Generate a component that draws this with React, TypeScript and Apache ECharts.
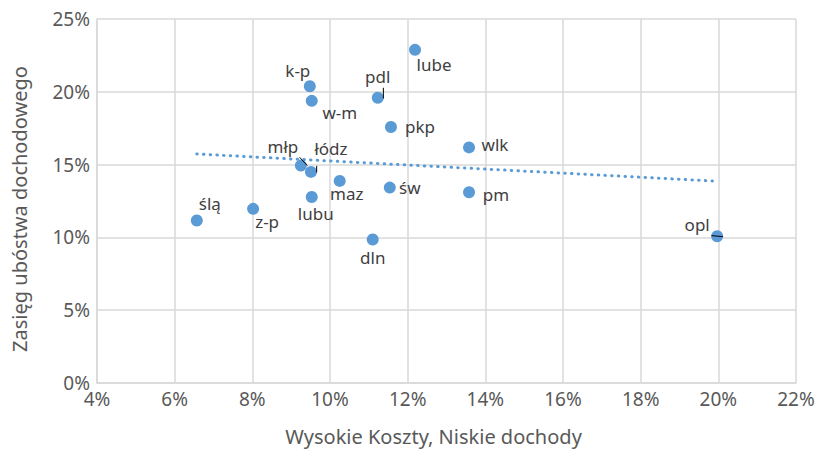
import React, { useEffect, useRef } from "react";
import * as echarts from "echarts";

// Data
const regions = ["ślą", "z-p", "k-p", "w-m", "młp", "łódz", "lubu", "maz", "pdl", "dln", "pkp", "św", "lube", "wlk", "pm", "opl"];
const highCostLowIncome = [6.57, 8.02, 9.48, 9.53, 9.25, 9.51, 9.53, 10.25, 11.23, 11.1, 11.57, 11.54, 12.19, 13.58, 13.58, 19.97];
const povertyRate = [11.16, 11.96, 20.38, 19.38, 14.93, 14.5, 12.77, 13.88, 19.59, 9.86, 17.58, 13.42, 22.88, 16.18, 13.1, 10.08];
const xTicks = [4, 6, 8, 10, 12, 14, 16, 18, 20, 22];
const yTicks = [0, 5, 10, 15, 20, 25];

// Label placement (pixel offsets from point centre) — styling only
const labelOffsets: Record<string, [number, number]> = {
  "ślą": [13, -17],
  "z-p": [14, 13],
  "k-p": [-12, -16],
  "w-m": [28, 12],
  "młp": [-18, -19],
  "łódz": [20, -23],
  "lubu": [4, 16],
  "maz": [7, 13],
  "pdl": [0, -21],
  "dln": [0, 18],
  "pkp": [29, -1],
  "św": [20, 0],
  "lube": [19, 15],
  "wlk": [26, -3],
  "pm": [27, 2],
  "opl": [-20, -12],
};
const leaderLines: Record<string, [[number, number], [number, number]]> = {
  "pdl": [[5.6, -10], [5.6, 0.7]],
  "młp": [[-1.3, -8.4], [6.4, 0]],
  "łódz": [[5.7, -6], [5.7, 0.6]],
  "opl": [[-5.7, -0.6], [5.7, 0.4]],
};

const FONT = "'Noto Sans', sans-serif";

function regression(xs: number[], ys: number[]) {
  const n = xs.length;
  const mx = xs.reduce((a, b) => a + b, 0) / n;
  const my = ys.reduce((a, b) => a + b, 0) / n;
  let sxy = 0, sxx = 0;
  for (let i = 0; i < n; i++) {
    sxy += (xs[i] - mx) * (ys[i] - my);
    sxx += (xs[i] - mx) * (xs[i] - mx);
  }
  const b = sxy / sxx;
  return { a: my - b * mx, b };
}

export default function App() {
  const ref = useRef<HTMLDivElement>(null);
  useEffect(() => {
    if (!ref.current) return;
    const chart = echarts.init(ref.current, null, { renderer: "svg" });
    const { a, b } = regression(highCostLowIncome, povertyRate);
    const xMin = Math.min(...highCostLowIncome);
    const xMax = Math.max(...highCostLowIncome);
    const trend = [[xMin, a + b * xMin], [xMax, a + b * xMax]];

    const points = regions.map((name, i) => ({
      name,
      value: [highCostLowIncome[i], povertyRate[i]],
      label: { offset: labelOffsets[name] || [0, 0] },
    }));
    const leaders = regions
      .map((name, i) => ({ name, value: [highCostLowIncome[i], povertyRate[i]] }))
      .filter((d) => leaderLines[d.name]);

    chart.setOption({
      animation: false,
      grid: { left: 97, right: 22, top: 19, bottom: 67, containLabel: false },
      xAxis: {
        type: "value",
        min: xTicks[0],
        max: xTicks[xTicks.length - 1],
        interval: 2,
        name: "Wysokie Koszty, Niskie dochody",
        nameLocation: "middle",
        nameGap: 43,
        nameTextStyle: { fontFamily: FONT, fontSize: 20, color: "#595959", padding: [0, 26, 0, 0] },
        axisLine: { show: true, lineStyle: { color: "#D9D9D9", width: 1.5 } },
        axisTick: { show: false },
        splitLine: { show: true, lineStyle: { color: "#D9D9D9", width: 1.5 } },
        axisLabel: {
          formatter: (v: number) => `${v}%`,
          fontFamily: FONT,
          fontSize: 19,
          color: "#595959",
          margin: 6,
        },
      },
      yAxis: {
        type: "value",
        min: yTicks[0],
        max: yTicks[yTicks.length - 1],
        interval: 5,
        name: "Zasięg ubóstwa dochodowego",
        nameLocation: "middle",
        nameGap: 68,
        nameRotate: 90,
        nameTextStyle: { fontFamily: FONT, fontSize: 20, color: "#595959", padding: [0, 16, 0, 0] },
        axisLine: { show: true, lineStyle: { color: "#D9D9D9", width: 1.5 } },
        axisTick: { show: false },
        splitLine: { show: true, lineStyle: { color: "#D9D9D9", width: 1.5 } },
        axisLabel: {
          formatter: (v: number) => `${v}%`,
          fontFamily: FONT,
          fontSize: 19,
          color: "#595959",
          margin: 7,
        },
      },
      series: [
        {
          type: "line",
          data: trend,
          symbol: "none",
          silent: true,
          z: 1,
          lineStyle: { color: "#5B9BD5", width: 3, type: [0.5, 6.2], cap: "round" },
        },
        {
          type: "scatter",
          data: points,
          symbol: "circle",
          symbolSize: 12,
          z: 3,
          itemStyle: { color: "#5B9BD5", opacity: 1 },
          label: {
            show: true,
            position: "inside",
            formatter: "{b}",
            fontFamily: FONT,
            fontSize: 17,
            color: "#404040",
            align: "center",
            verticalAlign: "middle",
          },
        },
        {
          type: "custom",
          z: 4,
          silent: true,
          data: leaders,
          renderItem: (params: any, api: any) => {
            const name = leaders[params.dataIndex].name;
            const c = api.coord([api.value(0), api.value(1)]);
            const [p1, p2] = leaderLines[name];
            return {
              type: "line",
              shape: { x1: c[0] + p1[0], y1: c[1] + p1[1], x2: c[0] + p2[0], y2: c[1] + p2[1] },
              style: { stroke: "#000000", lineWidth: 1 },
            };
          },
        },
      ],
    });
    return () => chart.dispose();
  }, []);
  return <div ref={ref} style={{ width: 818, height: 451, position: "absolute", left: 0, top: 0, background: "#fff" }} />;
}
